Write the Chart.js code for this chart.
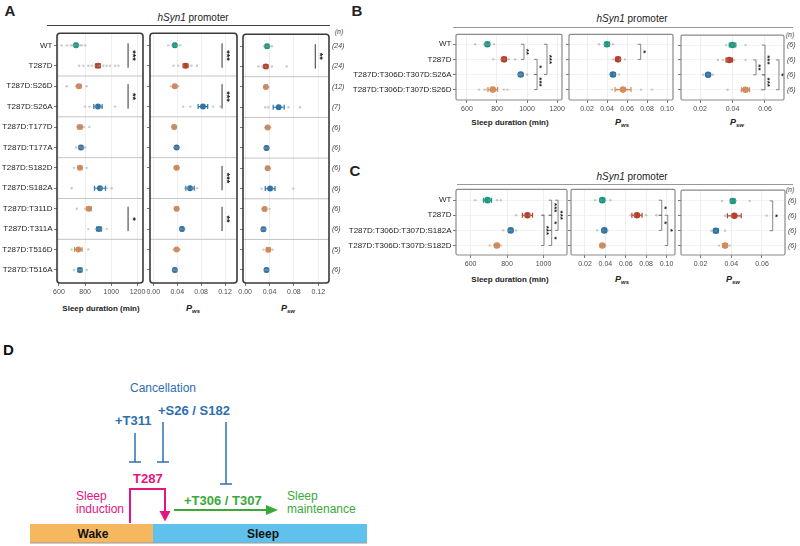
<!DOCTYPE html>
<html>
<head>
<meta charset="utf-8">
<script src="https://cdn.jsdelivr.net/npm/chart.js@4.4.1/dist/chart.umd.min.js"></script>
<style>
html, body { margin: 0; padding: 0; background: #fff; }
#fig { position: relative; width: 800px; height: 546px; overflow: hidden; font-family: 'Liberation Sans', Arial, sans-serif; }
#fig canvas { position: absolute; }
.t { position: absolute; white-space: nowrap; color: #222; line-height: 1; transform: translate(-50%, -50%); }
.hl { position: absolute; height: 0; }
.p { font-style: italic; font-weight: bold; font-size: 9px; }
.p sub { font-size: 6px; vertical-align: -2px; }
.ax { font-weight: bold; font-size: 8px; }
.n { font-style: italic; font-size: 7px; color: #444; }
</style>
</head>
<body>
<div id="fig">
  <div class="t" style="left:10px;top:10px;font-size:15px;font-weight:bold">A</div>
  <div class="t" style="left:193px;top:18px;font-size:10px"><i>hSyn1</i> promoter</div>
  <div class="hl" style="left:47px;top:25px;width:283px;border-top:1px solid #444"></div>
  <div class="t n" style="left:339px;top:31px">(n)</div>
  <div class="t ax" style="left:101px;top:309px">Sleep duration (min)</div>
  <div class="t p" style="left:193px;top:309px">P<sub>ws</sub></div>
  <div class="t p" style="left:288px;top:309px">P<sub>sw</sub></div>

  <div class="t" style="left:357px;top:10px;font-size:15px;font-weight:bold">B</div>
  <div class="t" style="left:632px;top:19px;font-size:10px"><i>hSyn1</i> promoter</div>
  <div class="hl" style="left:453px;top:27px;width:340px;border-top:1.3px solid #999"></div>
  <div class="t n" style="left:790px;top:34px">(n)</div>
  <div class="t ax" style="left:510px;top:123px">Sleep duration (min)</div>
  <div class="t p" style="left:622px;top:123px">P<sub>ws</sub></div>
  <div class="t p" style="left:737px;top:123px">P<sub>sw</sub></div>

  <div class="t" style="left:355px;top:170px;font-size:15px;font-weight:bold">C</div>
  <div class="t" style="left:632px;top:177px;font-size:10px"><i>hSyn1</i> promoter</div>
  <div class="hl" style="left:457px;top:184px;width:336px;border-top:1.3px solid #999"></div>
  <div class="t n" style="left:790px;top:189px">(n)</div>
  <div class="t ax" style="left:510px;top:280px">Sleep duration (min)</div>
  <div class="t p" style="left:622px;top:280px">P<sub>ws</sub></div>
  <div class="t p" style="left:733px;top:280px">P<sub>sw</sub></div>

  <svg width="400" height="216" viewBox="0 330 400 216" style="position:absolute;left:0;top:330px" font-family="'Liberation Sans', Arial, sans-serif">
    <text x="3" y="355" font-size="15" font-weight="bold" fill="#111">D</text>
    <text x="130" y="391.5" font-size="12" fill="#2f6fb0">Cancellation</text>
    <text x="158" y="415" font-size="13" font-weight="bold" fill="#2f6fb0">+S26 / S182</text>
    <text x="115" y="425" font-size="13" font-weight="bold" fill="#2f6fb0">+T311</text>
    <g stroke="#2f6fb0" stroke-width="1.5">
      <line x1="135" y1="433" x2="135" y2="462"/><line x1="129" y1="462" x2="141" y2="462"/>
      <line x1="163" y1="422" x2="163" y2="462"/><line x1="157" y1="462" x2="169" y2="462"/>
      <line x1="226" y1="422" x2="226" y2="484"/><line x1="220" y1="484" x2="232" y2="484"/>
    </g>
    <text x="133" y="483" font-size="13" font-weight="bold" fill="#e5157f">T287</text>
    <path d="M130 523 V489 H165 V512" fill="none" stroke="#e5157f" stroke-width="2"/>
    <polygon points="159.5,511 170.5,511 165,521.5" fill="#e5157f"/>
    <text x="76" y="500" font-size="12" fill="#e5157f">Sleep</text>
    <text x="76" y="513" font-size="12" fill="#e5157f">induction</text>
    <text x="184" y="505" font-size="13" font-weight="bold" fill="#3aa93a">+T306 / T307</text>
    <line x1="174" y1="510" x2="268" y2="510" stroke="#3aa93a" stroke-width="2"/>
    <polygon points="266,505 278,510 266,515" fill="#3aa93a"/>
    <text x="287" y="500" font-size="12" fill="#3aa93a">Sleep</text>
    <text x="287" y="513" font-size="12" fill="#3aa93a">maintenance</text>
    <rect x="30" y="524" width="123" height="19" fill="#f5b85e"/>
    <rect x="153" y="524" width="214" height="19" fill="#60c2ec"/>
    <line x1="30" y1="543" x2="367" y2="543" stroke="#9a9a9a" stroke-width="1"/>
    <text x="93" y="537.5" text-anchor="middle" font-size="12" font-weight="bold" fill="#111">Wake</text>
    <text x="263" y="537.5" text-anchor="middle" font-size="12" font-weight="bold" fill="#111">Sleep</text>
  </svg>
</div>

<script>
// ---- panel A data ----
const rowsA = ['WT', 'T287D', 'T287D:S26D', 'T287D:S26A', 'T287D:T177D', 'T287D:T177A',
  'T287D:S182D', 'T287D:S182A', 'T287D:T311D', 'T287D:T311A', 'T287D:T516D', 'T287D:T516A'];
const typeA = ['wt', 't287d', 'd', 'a', 'd', 'a', 'd', 'a', 'd', 'a', 'd', 'a'];
const nA = [24, 24, 12, 7, 6, 6, 6, 6, 6, 6, 5, 6];
const sleepA = [730, 898, 753, 898, 760, 768, 760, 913, 829, 906, 748, 760];
const sleepSemA = [10, 18, 14, 32, 16, 12, 14, 42, 18, 19, 29, 14];
const pwsA = [0.036, 0.054, 0.036, 0.083, 0.035, 0.039, 0.039, 0.0615, 0.039, 0.048, 0.039, 0.036];
const pwsSemA = [0.002, 0.004, 0.002, 0.008, 0.002, 0.002, 0.002, 0.007, 0.002, 0.002, 0.002, 0.002];
const pswA = [0.036, 0.034, 0.034, 0.055, 0.037, 0.035, 0.037, 0.041, 0.032, 0.030, 0.038, 0.035];
const pswSemA = [0.002, 0.003, 0.002, 0.009, 0.002, 0.002, 0.002, 0.008, 0.002, 0.002, 0.003, 0.002];
const sleepPtsA = [
  [620, 660, 690, 705, 715, 725, 740, 760, 775, 800],
  [755, 786, 824, 850, 875, 900, 915, 939, 965, 990, 1028, 1054],
  [659, 730, 748, 765, 812],
  [799, 832, 880, 920, 1028],
  [740, 755, 770, 790, 832],
  [730, 755, 768, 780, 801],
  [715, 745, 761, 775, 812],
  [697, 876, 920, 965, 1003],
  [736, 800, 830, 845],
  [824, 880, 905, 925, 965],
  [697, 730, 750, 770, 824],
  [715, 745, 760, 775, 812]
];
const pwsPtsA = [
  [0.025, 0.032, 0.036, 0.040, 0.045],
  [0.034, 0.042, 0.050, 0.059, 0.064, 0.073],
  [0.030, 0.036, 0.042],
  [0.050, 0.062, 0.100, 0.112],
  [0.032, 0.035, 0.038],
  [0.035, 0.039, 0.043],
  [0.035, 0.039, 0.043],
  [0.053, 0.058, 0.064, 0.073],
  [0.036, 0.039, 0.042],
  [0.045, 0.048, 0.052],
  [0.034, 0.039, 0.044],
  [0.034, 0.036, 0.039]
];
const pswPtsA = [
  [0.031, 0.036, 0.040, 0.044],
  [0.022, 0.028, 0.034, 0.044, 0.068],
  [0.031, 0.034, 0.038],
  [0.033, 0.038, 0.071, 0.090],
  [0.033, 0.037, 0.041],
  [0.032, 0.035, 0.039],
  [0.034, 0.037, 0.040],
  [0.027, 0.034, 0.046, 0.079],
  [0.028, 0.032, 0.040],
  [0.028, 0.030, 0.033],
  [0.030, 0.038, 0.045],
  [0.033, 0.035, 0.038]
];
const sigSleepA = [{ a: 0, b: 1, x: 1128, s: '***' }, { a: 2, b: 3, x: 1128, s: '**' }, { a: 8, b: 9, x: 1128, s: '*' }];
const sigPwsA = [{ a: 0, b: 1, x: 0.115, s: '***' }, { a: 2, b: 3, x: 0.115, s: '***' },
  { a: 6, b: 7, x: 0.115, s: '***' }, { a: 8, b: 9, x: 0.115, s: '**' }];
const sigPswA = [{ a: 0, b: 1, x: 0.115, s: '**' }];
const groupLinesA = [1.5, 3.5, 5.5, 7.5, 9.5];

// ---- panel B data ----
const rowsB = ['WT', 'T287D', 'T287D:T306D:T307D:S26A', 'T287D:T306D:T307D:S26D'];
const typeB = ['wt', 't287d', 'a', 'd'];
const nB = [6, 6, 6, 6];
const sleepB = [736, 847, 958, 772];
const sleepSemB = [12, 15, 10, 32];
const pwsB = [0.040, 0.051, 0.046, 0.056];
const pwsSemB = [0.002, 0.002, 0.002, 0.008];
const pswB = [0.040, 0.038, 0.025, 0.048];
const pswSemB = [0.002, 0.002, 0.001, 0.0025];
const sleepPtsB = [[655, 715, 730, 745, 780], [775, 830, 850, 880, 920], [945, 955, 965, 1000], [680, 715, 730, 800, 845, 870]];
const pwsPtsB = [[0.032, 0.038, 0.042, 0.046], [0.046, 0.053, 0.058], [0.043, 0.047, 0.052], [0.045, 0.050, 0.060, 0.074, 0.085]];
const pswPtsB = [[0.036, 0.040, 0.042, 0.048], [0.031, 0.034, 0.037, 0.041, 0.048], [0.022, 0.025, 0.028], [0.037, 0.046, 0.050, 0.058]];
const sigSleepB = [{ a: 0, b: 1, x: 980, s: '**' }, { a: 1, b: 2, x: 1067, s: '*' },
  { a: 2, b: 3, x: 1067, s: '***' }, { a: 0, b: 2, x: 1133, s: '***' }];
const sigPwsB = [{ a: 0, b: 1, x: 0.0737, s: '*' }];
const sigPswB = [{ a: 1, b: 2, x: 0.0545, s: '**' }, { a: 0, b: 2, x: 0.060, s: '***' },
  { a: 2, b: 3, x: 0.060, s: '***' }, { a: 1, b: 3, x: 0.0686, s: '*' }];

// ---- panel C data ----
const rowsC = ['WT', 'T287D', 'T287D:T306D:T307D:S182A', 'T287D:T306D:T307D:S182D'];
const typeC = ['wt', 't287d', 'a', 'd'];
const nC = [6, 6, 6, 6];
const sleepC = [693, 912, 820, 744];
const sleepSemC = [22, 28, 8, 10];
const pwsC = [0.037, 0.071, 0.039, 0.037];
const pwsSemC = [0.002, 0.005, 0.002, 0.001];
const pswC = [0.041, 0.042, 0.030, 0.036];
const pswSemC = [0.0015, 0.0045, 0.0015, 0.0015];
const sleepPtsC = [[625, 670, 700, 745, 765], [850, 895, 925, 1000], [780, 810, 825, 850], [705, 730, 750, 765]];
const pwsPtsC = [[0.030, 0.036, 0.040, 0.045], [0.065, 0.068, 0.075, 0.080, 0.090], [0.032, 0.038, 0.042], [0.036, 0.038, 0.040]];
const pswPtsC = [[0.034, 0.040, 0.043, 0.052], [0.036, 0.040, 0.046, 0.063], [0.027, 0.030, 0.036], [0.032, 0.036, 0.039]];
const sigSleepC = [{ a: 1, b: 3, x: 1003, s: '***' }, { a: 0, b: 1, x: 1045, s: '***' },
  { a: 1, b: 2, x: 1045, s: '*' }, { a: 2, b: 3, x: 1045, s: '*' }, { a: 0, b: 2, x: 1080, s: '***' }];
const sigPwsC = [{ a: 0, b: 1, x: 0.0953, s: '*' }, { a: 1, b: 2, x: 0.0953, s: '*' }, { a: 1, b: 3, x: 0.1012, s: '*' }];
const sigPswC = [{ a: 0, b: 2, x: 0.067, s: '*' }];

// ---- drawing ----
Chart.defaults.font.family = "'Liberation Sans', Arial, Helvetica, sans-serif";
const palette = { wt: '#189a80', t287d: '#b8402a', d: '#d98a55', a: '#2d74a8' };
const fig = document.getElementById('fig');
const fmtInt = v => String(v);
const fmt2 = v => v.toFixed(2);

function makePanel(cfg) {
  const [x0, y0, x1, y1] = cfg.box;
  const L = cfg.leftW, R = cfg.rightW, T = 6, B = 16;
  const cv = document.createElement('canvas');
  cv.width = x1 - x0 + L + R;
  cv.height = y1 - y0 + T + B;
  cv.style.left = (x0 - L) + 'px';
  cv.style.top = (y0 - T) + 'px';
  fig.appendChild(cv);

  const rowIdx = cfg.rows.map((_, i) => i);
  const colors = cfg.types.map(t => palette[t]);
  const pts = [];
  cfg.points.forEach((arr, i) => arr.forEach(v => pts.push({ x: v, y: i })));
  const strong = cfg.style === 'A';

  const scales = {
    x: {
      type: 'linear', min: cfg.xMin, max: cfg.xMax,
      afterBuildTicks: a => { a.ticks = cfg.xTicks.map(v => ({ value: v })); },
      afterFit: a => { a.height = B; },
      ticks: { callback: cfg.fmt, font: { size: 7 }, color: '#4d4d4d', padding: 2, maxRotation: 0, autoSkip: false },
      grid: { color: '#ebebeb', lineWidth: 0.8, tickLength: 3, tickColor: '#555' },
      border: { display: false }
    },
    y: {
      type: 'linear', reverse: true, min: cfg.yMin, max: cfg.yMax,
      afterBuildTicks: a => { a.ticks = rowIdx.map(v => ({ value: v })); },
      afterFit: a => { a.width = L; },
      ticks: { callback: v => (cfg.labels ? cfg.rows[v] : ''), font: { size: cfg.labelSize }, color: '#222', padding: 1.5, autoSkip: false },
      grid: { drawOnChartArea: !strong, color: '#f0f0f0', lineWidth: 0.8, tickLength: 3, tickColor: '#555' },
      border: { display: false }
    }
  };
  if (cfg.n) {
    scales.yn = {
      type: 'linear', position: 'right', reverse: true, min: cfg.yMin, max: cfg.yMax,
      afterBuildTicks: a => { a.ticks = rowIdx.map(v => ({ value: v })); },
      afterFit: a => { a.width = R; },
      ticks: { callback: v => '(' + cfg.n[v] + ')', font: { size: 7, style: 'italic' }, color: '#444', padding: 3, autoSkip: false },
      grid: { display: false, drawTicks: false },
      border: { display: false }
    };
  }

  const panelPlugin = {
    id: 'panelDeco',
    beforeDatasetsDraw(chart) {
      const { ctx, chartArea: ca, scales: { x, y } } = chart;
      ctx.save();
      // group separators
      ctx.strokeStyle = '#c4c4c4';
      ctx.lineWidth = 1;
      (cfg.groups || []).forEach(g => {
        const py = y.getPixelForValue(g);
        ctx.beginPath(); ctx.moveTo(ca.left, py); ctx.lineTo(ca.right, py); ctx.stroke();
      });
      // error bars
      ctx.lineWidth = 1.2;
      cfg.means.forEach((m, i) => {
        const py = y.getPixelForValue(i);
        const xa = x.getPixelForValue(m - cfg.sems[i]);
        const xb = x.getPixelForValue(m + cfg.sems[i]);
        ctx.strokeStyle = colors[i];
        ctx.beginPath();
        ctx.moveTo(xa, py); ctx.lineTo(xb, py);
        ctx.moveTo(xa, py - 2.5); ctx.lineTo(xa, py + 2.5);
        ctx.moveTo(xb, py - 2.5); ctx.lineTo(xb, py + 2.5);
        ctx.stroke();
      });
      ctx.restore();
    },
    afterDatasetsDraw(chart) {
      const { ctx, chartArea: ca, scales: { x, y } } = chart;
      ctx.save();
      // significance brackets
      ctx.strokeStyle = strong ? '#333' : '#666';
      ctx.fillStyle = '#222';
      ctx.lineWidth = strong ? 1 : 0.8;
      cfg.sig.forEach(s => {
        const px = x.getPixelForValue(s.x);
        let ya = y.getPixelForValue(s.a), yb = y.getPixelForValue(s.b);
        ctx.beginPath();
        if (strong) {
          ya -= 2; yb += 2;
          ctx.moveTo(px, ya); ctx.lineTo(px, yb);
        } else {
          ctx.moveTo(px - 3, ya); ctx.lineTo(px, ya); ctx.lineTo(px, yb); ctx.lineTo(px - 3, yb);
        }
        ctx.stroke();
        ctx.save();
        ctx.translate(px + (strong ? 4 : 2.5), (ya + yb) / 2);
        ctx.rotate(Math.PI / 2);
        ctx.font = 'bold ' + (strong ? 9 : 8) + "px 'Liberation Sans', Arial";
        ctx.textAlign = 'center';
        ctx.textBaseline = 'middle';
        ctx.fillText(s.s, 0, 0);
        ctx.restore();
      });
      // panel frame
      ctx.strokeStyle = strong ? '#3a3a3a' : '#8a8a8a';
      ctx.lineWidth = strong ? 1.6 : 1.2;
      ctx.beginPath();
      ctx.roundRect(ca.left, ca.top, ca.right - ca.left, ca.bottom - ca.top, strong ? 3 : 1.5);
      ctx.stroke();
      ctx.restore();
    }
  };

  new Chart(cv, {
    type: 'scatter',
    data: {
      datasets: [
        { data: pts, pointRadius: 1.2, pointBackgroundColor: 'rgba(150,150,150,0.5)', pointBorderWidth: 0 },
        {
          data: cfg.means.map((m, i) => ({ x: m, y: i })),
          pointRadius: strong ? 3 : 3.3,
          pointBackgroundColor: colors, pointBorderWidth: 0
        }
      ]
    },
    options: {
      responsive: false, animation: false, events: [],
      layout: { padding: { top: T, left: 0, right: cfg.n ? 0 : R, bottom: 0 } },
      plugins: { legend: { display: false }, tooltip: { enabled: false } },
      scales
    },
    plugins: [panelPlugin]
  });
}

const baseA = { rows: rowsA, types: typeA, yMin: -0.59, yMax: 11.64, style: 'A', groups: groupLinesA, labelSize: 8 };
makePanel({ ...baseA, box: [57, 33, 143, 283], leftW: 57, rightW: 10, labels: true,
  means: sleepA, sems: sleepSemA, points: sleepPtsA, sig: sigSleepA,
  xMin: 585, xMax: 1242, xTicks: [600, 800, 1000, 1200], fmt: fmtInt });
makePanel({ ...baseA, box: [150, 33, 237, 283], leftW: 10, rightW: 10, labels: false,
  means: pwsA, sems: pwsSemA, points: pwsPtsA, sig: sigPwsA,
  xMin: -0.0055, xMax: 0.14, xTicks: [0, 0.04, 0.08, 0.12], fmt: fmt2 });
makePanel({ ...baseA, box: [243, 33, 329, 283], leftW: 10, rightW: 22, labels: false, n: nA,
  means: pswA, sems: pswSemA, points: pswPtsA, sig: sigPswA,
  xMin: -0.0035, xMax: 0.1375, xTicks: [0, 0.04, 0.08, 0.12], fmt: fmt2 });

const baseB = { rows: rowsB, types: typeB, yMin: -0.66, yMax: 3.69, style: 'B', labelSize: 8 };
makePanel({ ...baseB, box: [456, 34, 562, 100], leftW: 110, rightW: 8, labels: true,
  means: sleepB, sems: sleepSemB, points: sleepPtsB, sig: sigSleepB,
  xMin: 527, xMax: 1233, xTicks: [600, 800, 1000, 1200], fmt: fmtInt });
makePanel({ ...baseB, box: [569, 34, 673, 100], leftW: 8, rightW: 8, labels: false,
  means: pwsB, sems: pwsSemB, points: pwsPtsB, sig: sigPwsB,
  xMin: 0.002, xMax: 0.106, xTicks: [0.02, 0.04, 0.06, 0.08, 0.10], fmt: fmt2 });
makePanel({ ...baseB, box: [681, 34, 784, 100], leftW: 8, rightW: 16, labels: false, n: nB,
  means: pswB, sems: pswSemB, points: pswPtsB, sig: sigPswB,
  xMin: 0.0083, xMax: 0.0717, xTicks: [0.02, 0.04, 0.06], fmt: fmt2 });

const baseC = { rows: rowsC, types: typeC, yMin: -0.72, yMax: 3.63, style: 'C', labelSize: 8 };
makePanel({ ...baseC, box: [456, 189, 567, 255], leftW: 110, rightW: 8, labels: true,
  means: sleepC, sems: sleepSemC, points: sleepPtsC, sig: sigSleepC,
  xMin: 520, xMax: 1129, xTicks: [600, 800, 1000], fmt: fmtInt });
makePanel({ ...baseC, box: [571, 189, 675, 255], leftW: 8, rightW: 8, labels: false,
  means: pwsC, sems: pwsSemC, points: pwsPtsC, sig: sigPwsC,
  xMin: 0.0063, xMax: 0.1083, xTicks: [0.02, 0.04, 0.06, 0.08, 0.10], fmt: fmt2 });
makePanel({ ...baseC, box: [681, 189, 785, 255], leftW: 8, rightW: 16, labels: false, n: nC,
  means: pswC, sems: pswSemC, points: pswPtsC, sig: sigPswC,
  xMin: 0.0073, xMax: 0.075, xTicks: [0.02, 0.04, 0.06], fmt: fmt2 });
</script>
</body>
</html>
